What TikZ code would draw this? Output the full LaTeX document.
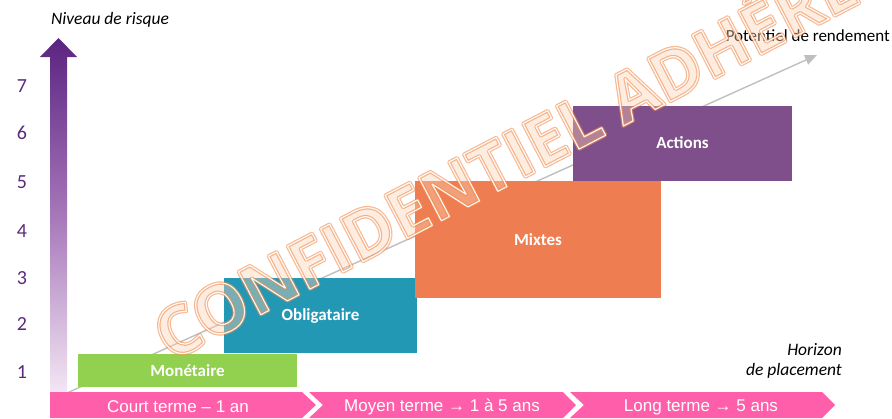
\documentclass[tikz,border=0pt]{standalone}
\usepackage{fontspec}
\setmainfont{Carlito}
\newfontfamily\barfont{Liberation Sans}
\newfontfamily\wmfont{Open Sans}
\usetikzlibrary{arrows.meta}
\definecolor{numpurple}{HTML}{5B2A7E}
\definecolor{mongreen}{HTML}{92D050}
\definecolor{obliteal}{HTML}{2398B5}
\definecolor{mixorange}{HTML}{EF7D52}
\definecolor{actpurple}{HTML}{7F4F8B}
\definecolor{barpink}{HTML}{FF5FAA}
\definecolor{wmorange}{HTML}{F08A4B}
\definecolor{wmfill}{HTML}{FBD2B4}
\definecolor{arrtop}{HTML}{5A2381}
\definecolor{arrmid}{HTML}{A677B9}
\definecolor{arrbot}{HTML}{F3E6F4}
\newcommand{\wmstroke}[2]{\special{pdf:literal direct #1 Tr #2 w 1 j}}
\newcommand{\wmreset}{\special{pdf:literal direct 0 Tr}}
\tikzset{
  catbox/.style={draw=none, inner sep=0pt, text=white, font=\bfseries\fontsize{17}{20}\selectfont},
  numlab/.style={text=numpurple, font=\fontsize{20}{24}\selectfont, inner sep=0pt},
  barlab/.style={text=white, font=\barfont\fontsize{17}{20}\selectfont, inner sep=0pt},
  axlab/.style={font=\itshape\fontsize{17.5}{21}\selectfont, inner sep=0pt},
  wmark/.style={anchor=base west, rotate=27.5, inner sep=0pt, font=\wmfont\bfseries\fontsize{68}{70}\selectfont},
}
\begin{document}
\begin{tikzpicture}[x=1pt,y=1pt]
\useasboundingbox (0,0) rectangle (892,-418);
\clip (0,0) rectangle (892,-418);
% vertical gradient arrow
\shade[top color=arrtop, bottom color=arrbot, middle color=arrmid]
  (50,-392) -- (50,-57) -- (40,-57) -- (58.5,-38) -- (77,-57) -- (67,-57) -- (67,-392) -- cycle;
% numbers
\foreach \n/\yy in {1/372,2/324,3/278,4/231,5/182,6/133,7/86}
  \node[numlab] (n\n) at (22,-\yy) {\n};
% gray diagonal arrow
\coordinate (gs) at (67,-393);
\coordinate (ge) at (817,-55);
\draw[draw=black!25, line width=1.4pt, -{Triangle[length=12pt,width=10pt]}] (gs) -- (ge);
% boxes
\fill[mongreen] (78,-354) rectangle (297,-387);
\fill[obliteal] (224,-278) rectangle (417,-353);
\fill[mixorange] (415,-181) rectangle (661,-298);
\fill[actpurple] (573,-106) rectangle (792,-181);
\node[catbox] (mon) at (187.5,-371) {Monétaire};
\node[catbox] (obl) at (320.5,-316) {Obligataire};
\node[catbox] (mix) at (538,-240) {Mixtes};
\node[catbox] (act) at (682.5,-143) {Actions};
% bottom chevron bar
\fill[barpink] (50,-392) -- (302,-392) -- (316,-405) -- (302,-418) -- (50,-418) -- cycle;
\fill[barpink] (309,-392) -- (563,-392) -- (576,-405) -- (563,-418) -- (309,-418) -- (323,-405) -- cycle;
\fill[barpink] (570,-392) -- (822,-392) -- (835,-405) -- (822,-418) -- (570,-418) -- (584,-405) -- cycle;
\node[barlab] (b1) at (178,-407) {Court terme – 1 an};
\node[barlab] (b2) at (442,-407) {Moyen terme → 1 à 5 ans};
\node[barlab] (b3) at (701,-407) {Long terme → 5 ans};
% axis labels
\node[axlab] (risk) at (110,-20) {Niveau de risque};
\node[font=\fontsize{17}{20}\selectfont, inner sep=0pt, anchor=east] (pot) at (890,-36) {Potentiel de rendement};
\node[axlab, anchor=east] (hor1) at (842,-350) {Horizon};
\node[axlab, anchor=east] (hor2) at (842,-371) {de placement};
% watermark
\node[wmark, text=wmfill, opacity=0.4] (wm) at (170,-362) {CONFIDENTIEL ADHÉRENTS};
\node[wmark, text=wmorange, opacity=0.6] (wmo) at (170,-362) {\wmstroke{1}{3.5}CONFIDENTIEL ADHÉRENTS\wmreset};
\node[wmark, text=white, opacity=0.9] (wmw) at (170,-362) {\wmstroke{1}{1.2}CONFIDENTIEL ADHÉRENTS\wmreset};
\end{tikzpicture}
\end{document}
